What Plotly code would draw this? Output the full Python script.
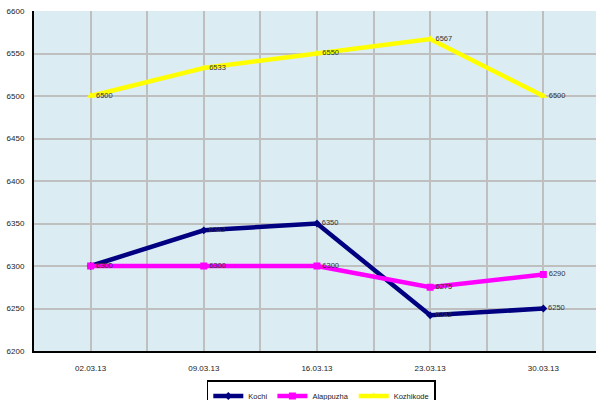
import plotly.graph_objects as go

dates = ["02.03.13", "09.03.13", "16.03.13", "23.03.13", "30.03.13"]
kochi = [6300, 6342, 6350, 6242, 6250]
alappuzha = [6300, 6300, 6300, 6275, 6290]
kozhikode = [6500, 6533, 6550, 6567, 6500]

xs = list(range(len(dates)))

series = [
    ("Kochi", kochi, "#000080", "diamond", 6),
    ("Alappuzha", alappuzha, "#FF00FF", "square", 7),
    ("Kozhikode", kozhikode, "#FFFF00", "triangle-up", 7),
]

fig = go.Figure()
for name, vals, color, sym, ms in series:
    fig.add_trace(go.Scatter(
        x=xs, y=vals, name=name, mode="lines+markers+text",
        line=dict(color=color, width=4.5),
        marker=dict(color=color, symbol=sym, size=ms),
        text=[str(v) for v in vals], textposition="middle right",
        textfont=dict(size=7.5, color="#333333", family="Liberation Sans, Arial"),
        cliponaxis=False,
    ))

fig.update_layout(
    width=596, height=400,
    margin=dict(l=34, r=0, t=11, b=49, autoexpand=False),
    paper_bgcolor="white", plot_bgcolor="#DBEDF3",
    font=dict(family="Liberation Sans, Arial", size=8, color="#222222"),
    showlegend=True,
    legend=dict(orientation="h", xref="container", yref="container",
                x=0.347, xanchor="left", y=0.05, yanchor="top",
                bordercolor="black", borderwidth=1.5, bgcolor="white",
                font=dict(size=7.5), tracegroupgap=0, itemwidth=30),
)
fig.update_xaxes(
    range=[-0.5, 4.465], tickmode="array", tickvals=xs, ticktext=dates,
    showgrid=True, gridcolor="#BFBFBF", gridwidth=1.5,
    minor=dict(dtick=0.5, tick0=0.5, showgrid=True, gridcolor="#BFBFBF", gridwidth=1.5),
    showline=True, linecolor="black", linewidth=2, ticks="", zeroline=False,
    tickfont=dict(size=8), automargin=False, ticklabelstandoff=8,
)
fig.update_yaxes(
    range=[6200, 6600], dtick=50, tick0=6200,
    showgrid=True, gridcolor="#BFBFBF", gridwidth=1.5,
    showline=True, linecolor="black", linewidth=2, ticks="", zeroline=False,
    tickfont=dict(size=8), ticklabelstandoff=6, automargin=False,
)

fig.write_html("out.html", config={"displayModeBar": False},
               post_script="document.body.style.margin='0px';")
